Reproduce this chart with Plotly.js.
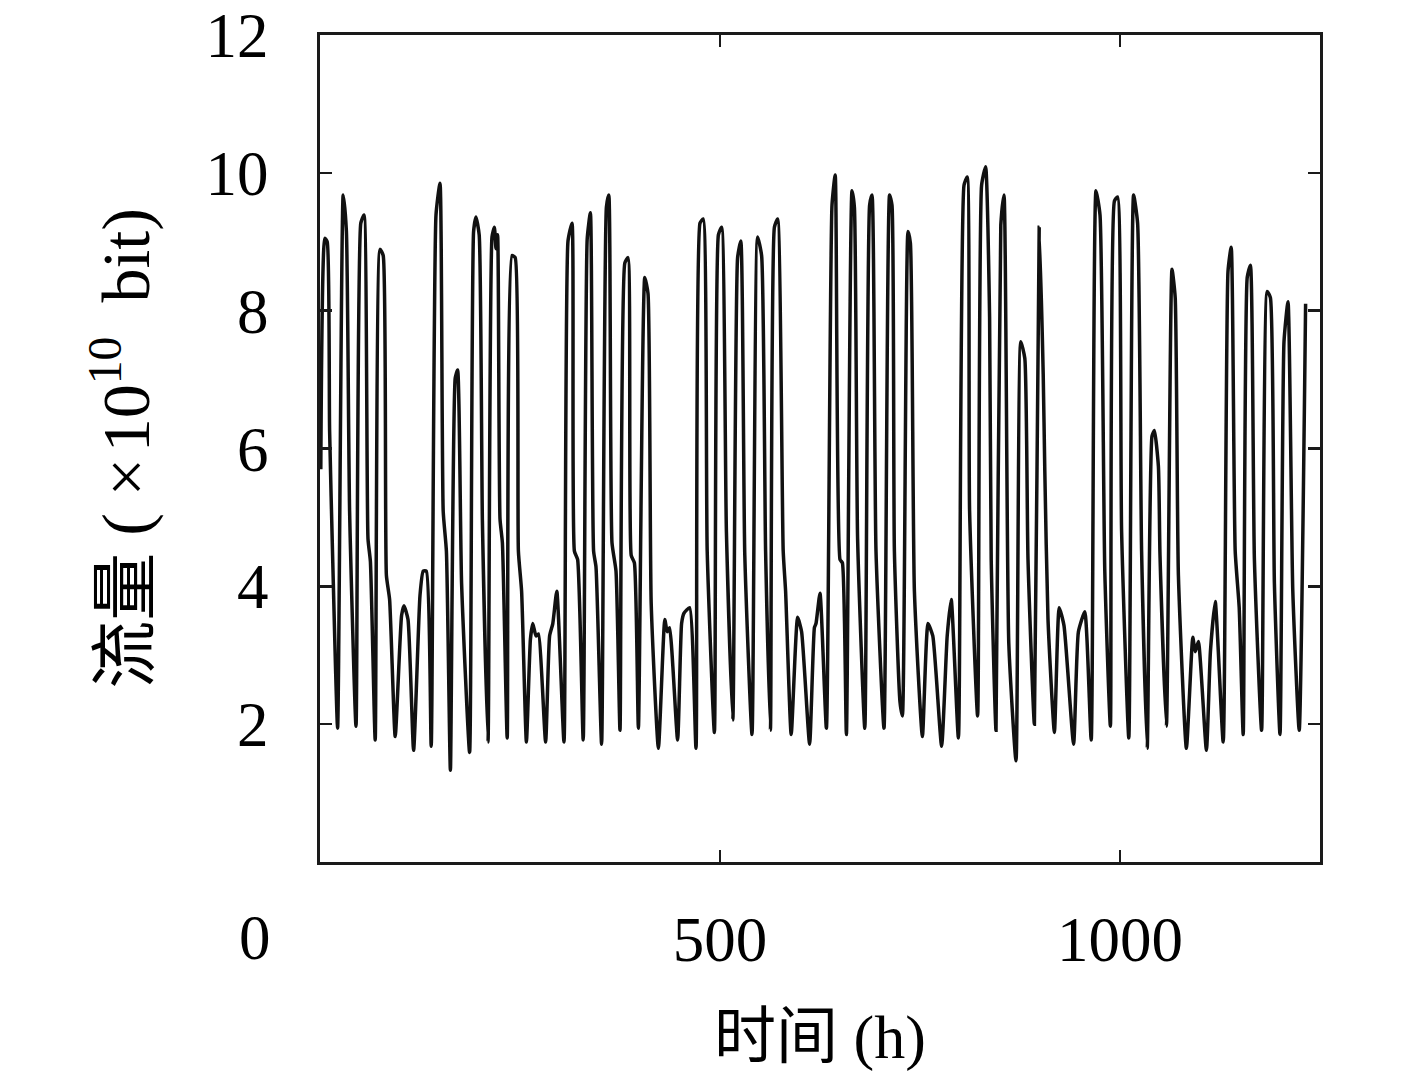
<!DOCTYPE html>
<html>
<head>
<meta charset="utf-8">
<script src="https://cdn.plot.ly/plotly-3.0.1.min.js"></script>
<style>html,body{margin:0;padding:0;background:#fff;}#chart{width:1417px;height:1077px;}</style>
</head>
<body>
<div id="chart"></div>
<script>
// 时间 (h)
const hours = [1,6,9,12,16,22,29,33,37,45,51,55,60,63,69,75,79,83,87,94,102,105,110,117,125,129,133,139,145,150,154,158,163,169,172,177,187,192,195,199,203,
210,215,218,220,222,225,228,234,240,244,248,252,258,263,266,270,273,282,287,291,296,305,310,315,318,322,329,334,338,342,345,352,358,361,365,370,375,381,385,389,393,398,406,410,
414,423,431,434,437,447,452,455,462,470,475,479,484,493,498,502,508,516,522,526,531,540,547,552,557,563,568,572,579,582,589,597,602,612,618,
620,625,633,640,644,650,653,658,665,668,672,681,687,690,695,705,712,715,718,725,728,735,738,743,753,760,766,777,784,789,798,805,809,812,822,
827,832,837,839,845,851,855,861,870,876,881,885,893,899,904,906,910,918,924,930,942,948,956,964,970,975,981,988,993,997,1002,1011,1017,1022,1027,
1034,1040,1043,1048,1050,1058,1065,1069,1073,1083,1091,1094,1098,1108,1113,1119,1129,1135,1139,1144,1149,1154,1159,1163,1168,1177,1184,1188,1193,1200,1205,1210,1216,1224,1232];
// 流量 (×10^10 bit)
const traffic = [5.70,9.05,9.00,6.26,4.34,1.94,9.68,9.15,5.09,1.97,9.27,9.39,4.69,4.36,1.77,8.89,8.80,4.16,3.81,1.82,3.58,3.72,3.52,1.62,3.87,4.22,4.22,1.68,9.39,9.85,5.09,4.51,1.33,7.02,7.14,4.04,1.59,9.15,9.36,9.10,4.95,
1.74,9.07,9.21,8.90,9.10,4.98,4.63,1.80,8.80,8.77,4.51,3.93,1.74,3.23,3.46,3.28,3.31,1.74,3.28,3.46,3.93,1.74,9.01,9.27,4.51,4.39,1.77,9.04,9.42,4.51,4.28,1.71,9.50,9.68,4.63,4.22,1.91,8.69,8.77,4.45,4.34,1.94,8.48,8.25,
3.75,1.65,3.52,3.34,3.40,1.77,3.46,3.61,3.69,1.65,9.27,9.33,4.51,1.88,9.10,9.21,4.80,2.06,8.77,9.01,4.45,1.85,9.07,8.80,4.51,1.91,9.21,9.33,4.51,3.93,1.85,3.55,3.34,1.71,3.40,
3.46,3.90,1.94,9.53,9.97,4.39,4.34,1.85,9.74,9.50,4.69,1.94,9.53,9.68,4.51,1.94,9.68,9.53,4.51,2.32,2.12,9.15,8.98,3.93,1.82,3.46,3.28,1.68,3.28,3.81,1.80,9.82,9.94,5.09,2.12,
9.82,10.09,7.90,4.39,1.91,9.24,9.68,3.17,1.47,7.55,7.31,4.39,2.00,9.21,7.08,5.68,3.52,1.88,3.69,3.43,1.71,3.34,3.63,1.77,9.74,9.39,4.22,1.97,9.59,9.65,4.80,1.80,9.68,9.27,4.51,
1.65,6.18,6.26,5.74,4.45,1.97,8.60,8.19,4.16,1.65,3.26,3.05,3.20,1.62,3.05,3.78,1.74,8.57,8.92,4.51,3.69,1.85,8.48,8.66,4.39,1.91,8.28,8.19,4.04,1.85,7.55,8.13,3.93,1.91,8.10];
const xTicks = [500, 1000];
const xTickText = ['500', '1000'];
const yTicks = [2, 4, 6, 8, 10, 12];
const yTickText = ['2', '4', '6', '8', '10', '12'];

const serif = 'Liberation Serif, Times New Roman, Noto Sans CJK SC, serif';

const trace = {
  x: hours, y: traffic, type: 'scatter', mode: 'lines',
  line: {color: '#111111', width: 3.5, shape: 'spline', smoothing: 0.5},
  hoverinfo: 'x+y'
};

const layout = {
  width: 1417, height: 1077,
  margin: {l: 320, r: 97, t: 35, b: 215},
  paper_bgcolor: '#ffffff', plot_bgcolor: '#ffffff',
  showlegend: false,
  font: {family: serif, color: '#000000', size: 63},
  xaxis: {
    range: [0, 1250], tickvals: xTicks, ticktext: xTickText,
    ticks: 'inside', ticklen: 12, tickwidth: 2.5, tickcolor: '#1a1a1a',
    showline: true, linewidth: 3, linecolor: '#1a1a1a', mirror: 'ticks',
    showgrid: false, zeroline: false,
    ticklabelstandoff: 20,
    tickfont: {family: serif, size: 63, color: '#000'},
    title: {text: '时间 (h)', font: {family: serif, size: 62, color: '#000'}, standoff: 42}
  },
  yaxis: {
    range: [0, 12], tickvals: yTicks, ticktext: yTickText,
    ticks: 'inside', ticklen: 12, tickwidth: 2.5, tickcolor: '#1a1a1a',
    showline: true, linewidth: 3, linecolor: '#1a1a1a', mirror: 'ticks',
    showgrid: false, zeroline: false,
    ticklabelstandoff: 36,
    tickfont: {family: serif, size: 63, color: '#000'},
    title: {text: '流量\u00A0(\u00A0\u00D7\u200A10<sup>10</sup>\u00A0\u00A0bit)', font: {family: serif, size: 68, color: '#000'}, standoff: 34}
  },
  annotations: [{
    text: '0', xref: 'paper', yref: 'paper', x: -0.065, y: -0.092,
    xanchor: 'center', yanchor: 'middle', showarrow: false,
    font: {family: serif, size: 63, color: '#000'}
  }]
};

Plotly.newPlot('chart', [trace], layout, {displayModeBar: false, staticPlot: true});
</script>
</body>
</html>
